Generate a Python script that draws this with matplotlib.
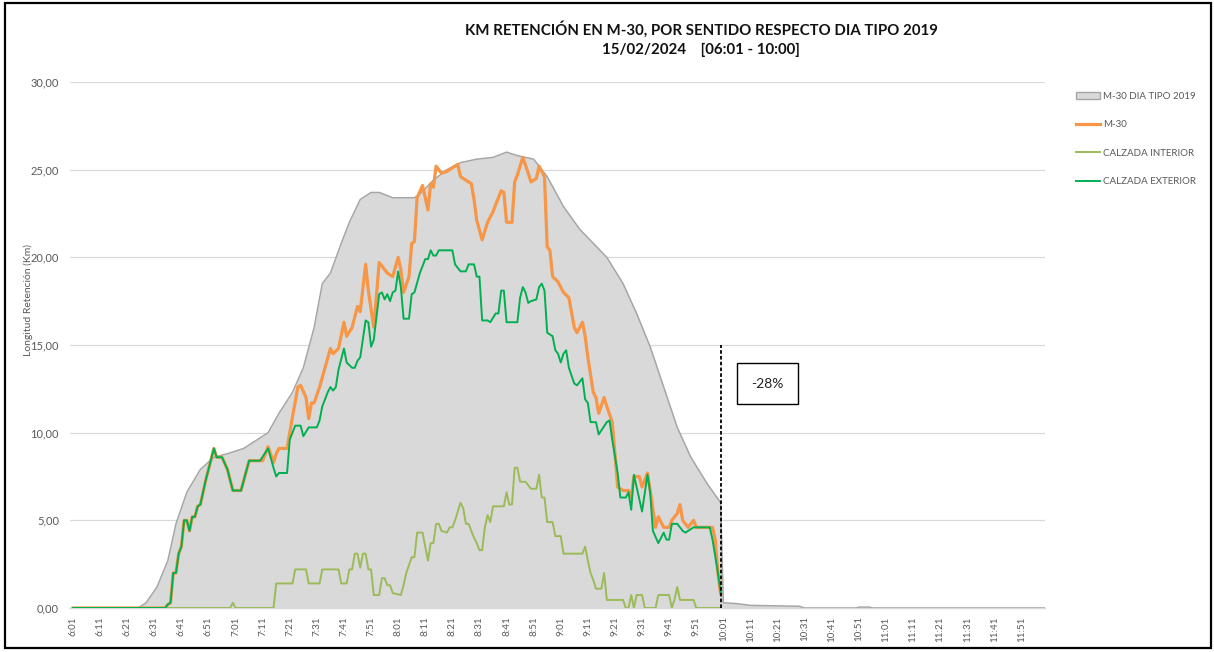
import matplotlib
matplotlib.use("Agg")
import matplotlib.pyplot as plt
from matplotlib.patches import Rectangle, Patch
from matplotlib.lines import Line2D
from matplotlib.ticker import FuncFormatter

plt.rcParams['font.family'] = ['Lato', 'DejaVu Sans']

# ---------------- data (minutes after 06:01, km) ----------------
start_minute_of_day = 6 * 60 + 1
n_minutes = 360
tick_step = 10

tipo2019_t = [0, 24, 27, 31, 35, 38, 42, 47, 52, 57, 63, 66, 72, 76, 81, 85, 89, 92, 95, 99,
              102, 106, 110, 113, 118, 126, 128, 133, 138, 143, 149, 155, 160, 164, 170, 175,
              181, 187, 197, 203, 208, 213, 218, 223, 228, 234, 239, 240, 245, 250, 268, 270,
              289, 290, 294, 295, 359]
tipo2019_km = [0, 0, 0.3, 1.2, 2.7, 4.8, 6.6, 7.9, 8.6, 8.8, 9.1, 9.4, 10.0, 11.1, 12.3, 13.7,
               16.0, 18.5, 19.1, 20.8, 22.0, 23.3, 23.7, 23.7, 23.4, 23.4, 23.6, 24.4, 25.0, 25.4,
               25.6, 25.7, 26.0, 25.8, 25.6, 24.6, 22.9, 21.6, 20.0, 18.5, 16.8, 14.9, 12.6, 10.3,
               8.6, 7.1, 6.0, 0.3, 0.25, 0.15, 0.1, 0, 0, 0.05, 0.05, 0, 0]

m30_t = [0, 34, 35, 36, 37, 38, 39, 40, 41, 42, 43, 44, 45, 46, 47, 48, 49, 52, 53, 55, 57, 59,
         62, 65, 70, 72, 74, 75, 76, 79, 80, 81, 83, 84, 86, 87, 88, 89, 91, 93, 95, 96, 98, 100,
         101, 103, 105, 106, 108, 109, 111, 113, 114, 116, 118, 120, 121, 122, 124, 125, 126, 127,
         129, 131, 132, 133, 134, 136, 138, 140, 142, 143, 145, 147, 148, 149, 151, 153, 155, 158,
         159, 160, 162, 163, 164, 166, 168, 169, 171, 172, 174, 175, 176, 177, 179, 181, 183, 185,
         186, 188, 189, 190, 192, 193, 194, 196, 197, 199, 200, 201, 203, 205, 206, 207, 209, 210,
         212, 213, 215, 216, 218, 220, 221, 223, 224, 225, 227, 229, 230, 235, 236, 237, 238, 239]
m30_km = [0, 0, 0.2, 0.3, 2.0, 2.0, 3.1, 3.5, 5.0, 5.0, 4.4, 5.2, 5.2, 5.8, 5.9, 6.6, 7.3, 9.1,
          8.6, 8.6, 7.9, 6.7, 6.7, 8.4, 8.4, 9.2, 8.3, 8.8, 9.1, 9.1, 10.0, 10.9, 12.6, 12.7, 12.0,
          10.8, 11.7, 11.7, 12.6, 13.7, 14.8, 14.5, 14.8, 16.3, 15.5, 16.0, 17.2, 16.9, 19.6, 18.1,
          16.0, 19.7, 19.5, 19.1, 18.9, 20.0, 19.3, 18.0, 18.9, 20.8, 20.9, 23.4, 24.1, 22.7, 24.2,
          24.0, 25.2, 24.8, 24.9, 25.1, 25.3, 24.6, 24.4, 24.2, 23.3, 22.1, 21.0, 22.0, 22.6, 23.8,
          23.7, 22.0, 22.0, 24.3, 24.7, 25.7, 24.8, 24.3, 24.5, 25.2, 24.6, 20.6, 20.4, 18.9, 18.6,
          18.0, 17.7, 16.0, 15.7, 16.3, 15.5, 14.3, 12.3, 12.0, 11.1, 12.0, 11.5, 10.6, 8.8, 6.9,
          6.7, 6.7, 6.3, 7.5, 7.5, 6.9, 7.7, 6.7, 4.6, 5.2, 4.6, 4.6, 5.0, 5.4, 5.9, 5.0, 4.6, 5.0,
          4.6, 4.6, 4.6, 3.9, 2.0, 0.8]

interior_t = [0, 58, 59, 60, 74, 75, 81, 82, 86, 87, 91, 92, 98, 99, 101, 102, 103, 104, 105, 106,
              107, 108, 109, 110, 111, 113, 114, 115, 116, 117, 118, 121, 122, 123, 125, 126, 127,
              129, 130, 131, 132, 133, 134, 135, 136, 138, 139, 140, 141, 143, 144, 145, 146, 148,
              149, 150, 151, 152, 153, 154, 155, 159, 160, 161, 162, 163, 164, 165, 167, 169, 171,
              172, 173, 174, 175, 177, 178, 180, 181, 188, 189, 190, 191, 192, 193, 195, 196, 197,
              203, 204, 205, 206, 207, 208, 210, 211, 215, 216, 220, 221, 222, 223, 224, 229, 230,
              239]
interior_km = [0, 0, 0.3, 0, 0, 1.4, 1.4, 2.2, 2.2, 1.4, 1.4, 2.2, 2.2, 1.4, 1.4, 2.2, 2.2, 3.1,
               3.1, 2.3, 3.1, 3.1, 2.2, 2.2, 0.74, 0.74, 1.7, 1.7, 1.3, 1.3, 0.85, 0.74, 1.3, 2.0,
               2.9, 2.9, 4.3, 4.3, 3.5, 2.7, 3.7, 3.7, 4.8, 4.8, 4.4, 4.3, 4.6, 4.6, 5.0, 6.0, 5.7,
               4.8, 4.8, 4.0, 3.7, 3.3, 3.3, 4.6, 5.3, 4.9, 5.8, 5.8, 6.6, 5.9, 5.9, 8.0, 8.0, 7.2,
               7.2, 6.8, 6.8, 7.6, 6.3, 6.3, 4.9, 4.9, 4.1, 4.1, 3.1, 3.1, 3.5, 2.7, 2.0, 1.6, 1.1,
               1.1, 2.0, 0.46, 0.46, 0, 0, 0.74, 0, 0.74, 0.74, 0, 0, 0.74, 0.74, 0, 0.5, 1.2, 0.46,
               0.46, 0, 0]

exterior_t = [0, 34, 35, 36, 37, 38, 39, 40, 41, 42, 43, 44, 45, 46, 47, 48, 49, 52, 53, 55, 57,
              59, 62, 65, 69, 72, 74, 75, 76, 79, 80, 82, 84, 85, 87, 90, 91, 92, 94, 95, 96, 97,
              98, 100, 101, 103, 104, 105, 106, 108, 109, 110, 111, 113, 114, 115, 116, 117, 118,
              119, 120, 121, 122, 124, 125, 126, 128, 130, 131, 132, 133, 134, 135, 140, 141, 143,
              145, 146, 148, 149, 150, 151, 153, 154, 156, 157, 158, 159, 160, 162, 164, 165, 166,
              167, 168, 169, 171, 172, 173, 174, 175, 177, 178, 179, 180, 181, 182, 183, 185, 186,
              188, 189, 190, 191, 193, 194, 197, 198, 199, 201, 202, 204, 205, 206, 207, 208, 210,
              212, 213, 214, 216, 218, 219, 220, 221, 223, 225, 226, 227, 229, 235, 236, 238, 239]
exterior_km = [0, 0, 0.2, 0.3, 2.0, 2.0, 3.1, 3.5, 5.0, 5.0, 4.4, 5.2, 5.2, 5.8, 5.9, 6.6, 7.3,
               9.1, 8.6, 8.6, 7.9, 6.7, 6.7, 8.4, 8.4, 9.1, 8.0, 7.5, 7.7, 7.7, 9.6, 10.4, 10.4,
               9.8, 10.3, 10.3, 10.7, 11.5, 12.3, 12.6, 12.4, 12.6, 13.6, 14.8, 14.0, 13.7, 13.7,
               14.1, 14.3, 16.4, 16.3, 14.9, 15.3, 17.9, 18.0, 17.6, 17.9, 17.5, 18.0, 18.1, 19.2,
               18.3, 16.5, 16.5, 17.9, 18.0, 19.1, 19.9, 19.9, 20.4, 20.1, 20.1, 20.4, 20.4, 19.6,
               19.2, 19.2, 19.6, 19.6, 18.9, 18.9, 16.4, 16.4, 16.3, 16.8, 16.8, 18.1, 18.1, 16.3,
               16.3, 16.3, 17.7, 18.3, 18.0, 17.4, 17.5, 17.6, 18.3, 18.5, 18.1, 15.7, 15.5, 14.7,
               14.5, 14.0, 14.5, 14.7, 13.7, 12.8, 12.7, 13.1, 11.9, 11.7, 10.6, 10.6, 9.9, 10.6,
               10.7, 9.6, 7.7, 6.3, 6.3, 6.6, 5.6, 7.6, 6.9, 5.5, 7.6, 6.6, 4.4, 3.7, 4.3, 3.9, 3.9,
               4.8, 4.8, 4.4, 4.3, 4.4, 4.6, 4.6, 3.9, 2.0, 0.9]

series_labels = ["M-30 DIA TIPO 2019", "M-30", "CALZADA INTERIOR", "CALZADA EXTERIOR"]
title_line1 = "KM RETENCIÓN EN M-30, POR SENTIDO RESPECTO DIA TIPO 2019"
title_line2 = "15/02/2024    [06:01 - 10:00]"
y_label = "Longitud Retención (Km)"
end_marker_t = 239
end_marker_top = 15
change_text = "-28%"
change_pos = (256.3, 12.8)

# ---------------- styling ----------------
W, H = 1214, 652
grey_fill = "#D9D9D9"
grey_edge = "#A6A6A6"
c_m30 = "#F79646"
c_int = "#9BBB59"
c_ext = "#00B050"
txt_grey = "#595959"


def time_label(t):
    m = start_minute_of_day + t
    return f"{m // 60}:{m % 60:02d}"


fig = plt.figure(figsize=(W / 100, H / 100), dpi=100)
ax = fig.add_axes([70 / W, (H - 608) / H, 975 / W, 526 / H])

ax.fill_between(tipo2019_t, tipo2019_km, 0, color=grey_fill, lw=0, zorder=1)
ax.plot(tipo2019_t, tipo2019_km, color=grey_edge, lw=1.1, zorder=2)
ax.plot(m30_t, m30_km, color=c_m30, lw=2.3, zorder=3, solid_joinstyle='round')
ax.plot(interior_t, interior_km, color=c_int, lw=1.4, zorder=4)
ax.plot(exterior_t, exterior_km, color=c_ext, lw=1.4, zorder=5)

ax.plot([end_marker_t, end_marker_t], [0, end_marker_top], color="black", lw=1.3,
        ls=(0, (2, 1.2)), zorder=6)
ax.text(change_pos[0], change_pos[1], change_text, ha="center", va="center", fontsize=10,
        color="#222222", zorder=7,
        bbox=dict(boxstyle="square,pad=1.05", fc="white", ec="black", lw=1.0))

ax.set_xlim(-1.1, 358.7)
ax.set_ylim(0, 30)
ax.set_yticks(range(0, 31, 5))
ax.yaxis.set_major_formatter(FuncFormatter(lambda v, p: f"{v:.2f}".replace(".", ",")))
xt = list(range(0, n_minutes, tick_step))
ax.set_xticks(xt)
ax.set_xticklabels([time_label(t) for t in xt], rotation=90, fontsize=7, color=txt_grey)
ax.tick_params(axis="y", length=0, labelsize=8, labelcolor=txt_grey, pad=8)
ax.tick_params(axis="x", length=0, pad=6)
ax.grid(axis="y", color=grey_fill, lw=0.9, zorder=0)
ax.set_axisbelow(True)
for s in ["top", "right", "left"]:
    ax.spines[s].set_visible(False)
ax.spines["bottom"].set_color(grey_fill)
ax.spines["bottom"].set_linewidth(1.0)
ax.spines["bottom"].set_zorder(0.5)

fig.text(28 / W, 1 - 300 / H, y_label, rotation=90, ha="center", va="center", fontsize=7.5,
         color=txt_grey)
fig.text(701 / W, 1 - 29 / H, title_line1, ha="center", va="center", fontsize=10.8,
         fontweight="bold", color="#111111")
fig.text(701 / W, 1 - 50 / H, title_line2, ha="center", va="center", fontsize=10.8,
         fontweight="bold", color="#111111")

handles = [Patch(facecolor=grey_fill, edgecolor=grey_edge, lw=1.0),
           Line2D([], [], color=c_m30, lw=2.3),
           Line2D([], [], color=c_int, lw=1.4),
           Line2D([], [], color=c_ext, lw=1.4)]
fig.legend(handles, series_labels, loc="upper left", bbox_to_anchor=(1076 / W, 1 - 92 / H),
           frameon=False, fontsize=7, labelcolor=txt_grey, handlelength=2.5,
           handletextpad=0.25, labelspacing=2.0, borderaxespad=0, borderpad=0)

fig.add_artist(Rectangle((5 / W, 4 / H), (1211 - 5) / W, (648 - 3) / H,
                         transform=fig.transFigure, fill=False, ec="black", lw=1.6))

fig.savefig("out.png", dpi=100)
